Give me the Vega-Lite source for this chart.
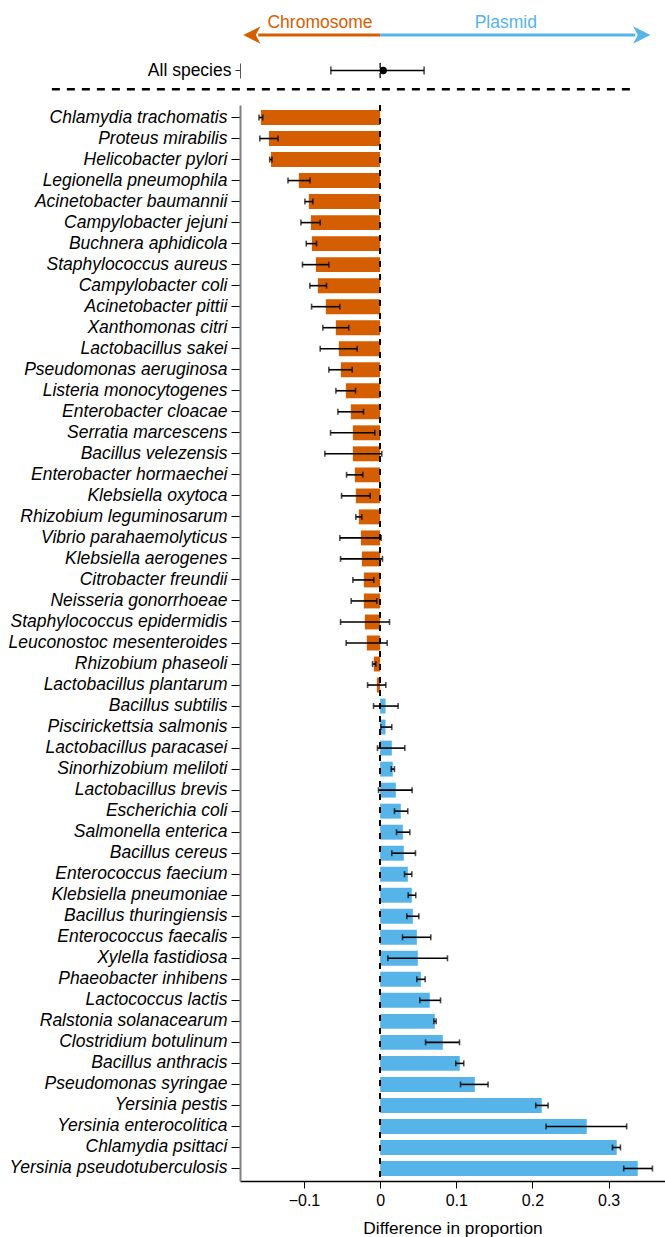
{
  "$schema": "https://vega.github.io/schema/vega-lite/v6.json",
  "padding": 0,
  "background": "white",
  "spacing": 0,
  "bounds": "flush",
  "config": {
    "view": {"stroke": null},
    "font": "Liberation Sans",
    "axis": {"labelFont": "Liberation Sans", "titleFont": "Liberation Sans", "grid": false, "labelLimit": 0}
  },
  "datasets": {
    "species": [
      {"species": "Chlamydia trachomatis", "diff": -0.1566, "lo": -0.159, "hi": -0.154},
      {"species": "Proteus mirabilis", "diff": -0.146, "lo": -0.158, "hi": -0.134},
      {"species": "Helicobacter pylori", "diff": -0.1434, "lo": -0.145, "hi": -0.142},
      {"species": "Legionella pneumophila", "diff": -0.1067, "lo": -0.121, "hi": -0.092},
      {"species": "Acinetobacter baumannii", "diff": -0.0936, "lo": -0.0988, "hi": -0.0883},
      {"species": "Campylobacter jejuni", "diff": -0.0909, "lo": -0.104, "hi": -0.0787},
      {"species": "Buchnera aphidicola", "diff": -0.0896, "lo": -0.097, "hi": -0.0835},
      {"species": "Staphylococcus aureus", "diff": -0.0844, "lo": -0.102, "hi": -0.0673},
      {"species": "Campylobacter coli", "diff": -0.0818, "lo": -0.0923, "hi": -0.0704},
      {"species": "Acinetobacter pittii", "diff": -0.0713, "lo": -0.09, "hi": -0.0529},
      {"species": "Xanthomonas citri", "diff": -0.0582, "lo": -0.0752, "hi": -0.0411},
      {"species": "Lactobacillus sakei", "diff": -0.0542, "lo": -0.0787, "hi": -0.0302},
      {"species": "Pseudomonas aeruginosa", "diff": -0.0516, "lo": -0.0673, "hi": -0.0367},
      {"species": "Listeria monocytogenes", "diff": -0.045, "lo": -0.0581, "hi": -0.0323},
      {"species": "Enterobacter cloacae", "diff": -0.0385, "lo": -0.0555, "hi": -0.0218},
      {"species": "Serratia marcescens", "diff": -0.0358, "lo": -0.0651, "hi": -0.007},
      {"species": "Bacillus velezensis", "diff": -0.0358, "lo": -0.0726, "hi": 0.0022},
      {"species": "Enterobacter hormaechei", "diff": -0.0332, "lo": -0.0441, "hi": -0.0227},
      {"species": "Klebsiella oxytoca", "diff": -0.0319, "lo": -0.0507, "hi": -0.0131},
      {"species": "Rhizobium leguminosarum", "diff": -0.028, "lo": -0.0319, "hi": -0.024},
      {"species": "Vibrio parahaemolyticus", "diff": -0.0253, "lo": -0.0529, "hi": 0.0013},
      {"species": "Klebsiella aerogenes", "diff": -0.024, "lo": -0.052, "hi": 0.0031},
      {"species": "Citrobacter freundii", "diff": -0.0214, "lo": -0.0358, "hi": -0.0083},
      {"species": "Neisseria gonorrhoeae", "diff": -0.0214, "lo": -0.038, "hi": -0.0043},
      {"species": "Staphylococcus epidermidis", "diff": -0.0201, "lo": -0.052, "hi": 0.0123},
      {"species": "Leuconostoc mesenteroides", "diff": -0.0175, "lo": -0.0446, "hi": 0.0092},
      {"species": "Rhizobium phaseoli", "diff": -0.0083, "lo": -0.01, "hi": -0.0056},
      {"species": "Lactobacillus plantarum", "diff": -0.0043, "lo": -0.0165, "hi": 0.0075},
      {"species": "Bacillus subtilis", "diff": 0.0071, "lo": -0.0087, "hi": 0.0236},
      {"species": "Piscirickettsia salmonis", "diff": 0.0071, "lo": 0.0009, "hi": 0.0153},
      {"species": "Lactobacillus paracasei", "diff": 0.0153, "lo": -0.0035, "hi": 0.0324},
      {"species": "Sinorhizobium meliloti", "diff": 0.0166, "lo": 0.0145, "hi": 0.0188},
      {"species": "Lactobacillus brevis", "diff": 0.0206, "lo": -0.0021, "hi": 0.042},
      {"species": "Escherichia coli", "diff": 0.0271, "lo": 0.0188, "hi": 0.0363},
      {"species": "Salmonella enterica", "diff": 0.0298, "lo": 0.0215, "hi": 0.039},
      {"species": "Bacillus cereus", "diff": 0.0311, "lo": 0.0153, "hi": 0.0464},
      {"species": "Enterococcus faecium", "diff": 0.0364, "lo": 0.032, "hi": 0.0416},
      {"species": "Klebsiella pneumoniae", "diff": 0.0416, "lo": 0.0368, "hi": 0.0468},
      {"species": "Bacillus thuringiensis", "diff": 0.0429, "lo": 0.035, "hi": 0.0508},
      {"species": "Enterococcus faecalis", "diff": 0.0482, "lo": 0.0294, "hi": 0.0665},
      {"species": "Xylella fastidiosa", "diff": 0.0495, "lo": 0.0101, "hi": 0.0884},
      {"species": "Phaeobacter inhibens", "diff": 0.0534, "lo": 0.0482, "hi": 0.0591},
      {"species": "Lactococcus lactis", "diff": 0.0652, "lo": 0.0521, "hi": 0.0793},
      {"species": "Ralstonia solanacearum", "diff": 0.0718, "lo": 0.0705, "hi": 0.0735},
      {"species": "Clostridium botulinum", "diff": 0.0823, "lo": 0.0596, "hi": 0.1042},
      {"species": "Bacillus anthracis", "diff": 0.1046, "lo": 0.0993, "hi": 0.1098},
      {"species": "Pseudomonas syringae", "diff": 0.1243, "lo": 0.1055, "hi": 0.1417},
      {"species": "Yersinia pestis", "diff": 0.2122, "lo": 0.2043, "hi": 0.2205},
      {"species": "Yersinia enterocolitica", "diff": 0.2713, "lo": 0.2178, "hi": 0.3237},
      {"species": "Chlamydia psittaci", "diff": 0.3106, "lo": 0.305, "hi": 0.3155},
      {"species": "Yersinia pseudotuberculosis", "diff": 0.3382, "lo": 0.3198, "hi": 0.3575}
    ],
    "all": [
      {"species": "All species", "diff": 0.004, "lo": -0.0647, "hi": 0.0577}
    ]
  },
  "vconcat": [
    {
      "width": 425,
      "height": 63,
      "data": {"values": [{}]},
      "layer": [
        {
          "mark": {"type": "rule", "color": "#D55E00", "strokeWidth": 3},
          "encoding": {
            "x": {"datum": -0.16, "type": "quantitative", "scale": {"domain": [-0.184, 0.374], "nice": false, "zero": false}, "axis": null},
            "x2": {"datum": 0},
            "y": {"datum": 0.444, "type": "quantitative", "scale": {"domain": [0, 1]}, "axis": null}
          }
        },
        {
          "mark": {"type": "rule", "color": "#56B4E9", "strokeWidth": 3},
          "encoding": {
            "x": {"datum": 0, "type": "quantitative"},
            "x2": {"datum": 0.335},
            "y": {"datum": 0.444, "type": "quantitative"}
          }
        },
        {
          "mark": {"type": "point", "shape": "M-1,0L1,-1L0.45,0L1,1Z", "size": 300, "filled": true, "opacity": 1, "color": "#D55E00"},
          "encoding": {
            "x": {"datum": -0.1684, "type": "quantitative"},
            "y": {"datum": 0.444, "type": "quantitative"}
          }
        },
        {
          "mark": {"type": "point", "shape": "M1,0L-1,-1L-0.45,0L-1,1Z", "size": 300, "filled": true, "opacity": 1, "color": "#56B4E9"},
          "encoding": {
            "x": {"datum": 0.3434, "type": "quantitative"},
            "y": {"datum": 0.444, "type": "quantitative"}
          }
        },
        {
          "mark": {"type": "text", "text": "Chromosome", "color": "#D55E00", "fontSize": 17.5, "font": "Liberation Sans", "align": "center", "baseline": "middle"},
          "encoding": {
            "x": {"datum": -0.079, "type": "quantitative"},
            "y": {"datum": 0.64, "type": "quantitative"}
          }
        },
        {
          "mark": {"type": "text", "text": "Plasmid", "color": "#56B4E9", "fontSize": 17.5, "font": "Liberation Sans", "align": "center", "baseline": "middle"},
          "encoding": {
            "x": {"datum": 0.165, "type": "quantitative"},
            "y": {"datum": 0.64, "type": "quantitative"}
          }
        }
      ]
    },
    {
      "width": 425,
      "height": 15,
      "data": {"name": "all"},
      "encoding": {
        "y": {
          "field": "species", "type": "nominal", "title": null,
          "scale": {"paddingInner": 0, "paddingOuter": 0},
          "axis": {"labelFontSize": 17.5, "labelColor": "black", "tickSize": 5, "tickColor": "#333", "domainColor": "#555", "domainWidth": 1, "labelPadding": 4, "minExtent": 240, "maxExtent": 240}
        }
      },
      "layer": [
        {
          "mark": {"type": "rule", "strokeDash": [5, 5], "color": "black", "strokeWidth": 1.3},
          "encoding": {
            "x": {"datum": 0, "type": "quantitative", "scale": {"domain": [-0.184, 0.374], "nice": false, "zero": false}, "axis": null},
            "y": null
          }
        },
        {
          "mark": {"type": "rule", "color": "black", "strokeWidth": 1.6},
          "encoding": {
            "x": {"field": "lo", "type": "quantitative"},
            "x2": {"field": "hi"}
          }
        },
        {
          "mark": {"type": "tick", "color": "black", "size": 8, "thickness": 1.6},
          "encoding": {"x": {"field": "lo", "type": "quantitative"}}
        },
        {
          "mark": {"type": "tick", "color": "black", "size": 8, "thickness": 1.6},
          "encoding": {"x": {"field": "hi", "type": "quantitative"}}
        },
        {
          "mark": {"type": "circle", "color": "black", "size": 55, "opacity": 1},
          "encoding": {"x": {"field": "diff", "type": "quantitative"}}
        }
      ]
    },
    {
      "width": 425,
      "height": 27,
      "data": {"values": [{}]},
      "mark": {"type": "rule", "color": "black", "strokeWidth": 2.5, "strokeDash": [8, 7]},
      "encoding": {
        "x": {"datum": -0.431, "type": "quantitative", "scale": {"domain": [-0.184, 0.374], "nice": false, "zero": false}, "axis": null},
        "x2": {"datum": 0.3316},
        "y": {"datum": 0.58, "type": "quantitative", "scale": {"domain": [0, 1]}, "axis": null}
      }
    },
    {
      "width": 425,
      "height": 1076,
      "data": {"name": "species"},
      "encoding": {
        "y": {
          "field": "species", "type": "nominal", "sort": null, "title": null,
          "scale": {"paddingInner": 0.29, "paddingOuter": 0.24},
          "axis": {"labelFontSize": 17.5, "labelFontStyle": "italic", "labelColor": "black", "tickSize": 9, "tickColor": "black", "tickWidth": 1, "domainColor": "#808080", "domainWidth": 2, "labelPadding": 4, "minExtent": 240, "maxExtent": 240}
        }
      },
      "layer": [
        {
          "mark": {"type": "bar"},
          "encoding": {
            "x": {
              "field": "diff", "type": "quantitative",
              "scale": {"domain": [-0.184, 0.374], "nice": false, "zero": false},
              "axis": {"values": [-0.1, 0, 0.1, 0.2, 0.3], "format": "~g", "title": "Difference in proportion", "titleFontSize": 17.3, "titleFontWeight": "normal", "titleColor": "black", "titlePadding": 11, "labelFontSize": 16, "labelColor": "black", "tickSize": 7, "tickColor": "black", "domainColor": "black", "domainWidth": 1.3, "labelPadding": 4}
            },
            "x2": {"datum": 0},
            "color": {"condition": {"test": "datum.diff < 0", "value": "#D55E00"}, "value": "#56B4E9"}
          }
        },
        {
          "mark": {"type": "rule", "strokeDash": [6, 7], "color": "black", "strokeWidth": 1.3},
          "encoding": {
            "x": {"datum": 0, "type": "quantitative"},
            "y": null
          }
        },
        {
          "mark": {"type": "rule", "color": "black", "strokeWidth": 1.6},
          "encoding": {
            "x": {"field": "lo", "type": "quantitative"},
            "x2": {"field": "hi"}
          }
        },
        {
          "mark": {"type": "tick", "color": "black", "size": 6, "thickness": 1.6},
          "encoding": {"x": {"field": "lo", "type": "quantitative"}}
        },
        {
          "mark": {"type": "tick", "color": "black", "size": 6, "thickness": 1.6},
          "encoding": {"x": {"field": "hi", "type": "quantitative"}}
        }
      ]
    }
  ]
}
